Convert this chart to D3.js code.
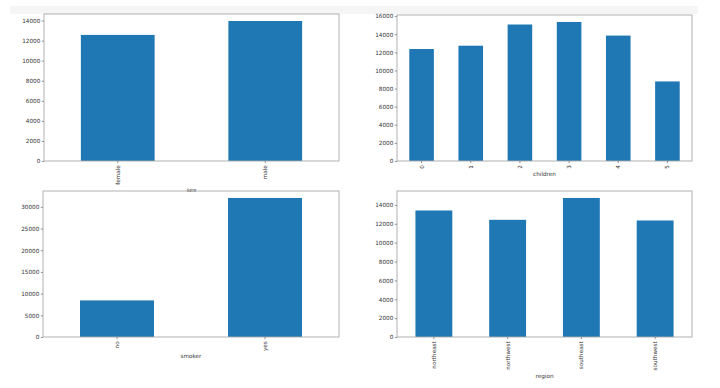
<!DOCTYPE html>
<html>
<head>
<meta charset="utf-8">
<script src="https://cdn.jsdelivr.net/npm/d3@7"></script>
<style>
  body { margin: 0; background: #fff; }
  svg { display: block; font-family: "DejaVu Sans", sans-serif; }
</style>
</head>
<body>
<svg id="chart"></svg>
<script>
// mean charges per group
const sexCats = ["female", "male"];
const sexVals = [12569.58, 13956.75];

const childCats = ["0", "1", "2", "3", "4", "5"];
const childVals = [12365.98, 12731.17, 15073.56, 15355.32, 13850.66, 8786.04];

const smokerCats = ["no", "yes"];
const smokerVals = [8434.27, 32050.23];

const regionCats = ["northeast", "northwest", "southeast", "southwest"];
const regionVals = [13406.38, 12417.58, 14735.41, 12346.94];

const width = 720, height = 388;
const svg = d3.select("#chart").attr("width", width).attr("height", height);

// faint strip of the notebook cell at the top
svg.append("rect")
    .attr("x", 10).attr("y", 6).attr("width", 688).attr("height", 8)
    .attr("fill", "#f5f5f5");

const panels = [
    {cats: sexCats, vals: sexVals, xlabel: "sex", box: [44, 14, 339, 161], step: 2000},
    {cats: childCats, vals: childVals, xlabel: "children", box: [397, 15, 692, 161], step: 2000},
    {cats: smokerCats, vals: smokerVals, xlabel: "smoker", box: [43, 191, 339, 337], step: 5000},
    {cats: regionCats, vals: regionVals, xlabel: "region", box: [397, 191, 692, 337], step: 2000}
];

const fontSize = 5.7;

panels.forEach(p => {
    const [x0, y0, x1, y1] = p.box;
    const g = svg.append("g");

    const x = d3.scaleBand().domain(p.cats).range([x0, x1]).paddingInner(0.5).paddingOuter(0.25);
    const y = d3.scaleLinear().domain([0, d3.max(p.vals) * 1.05]).range([y1, y0]);

    g.selectAll("rect.bar")
        .data(p.cats)
        .enter().append("rect")
        .attr("class", "bar")
        .attr("x", d => x(d))
        .attr("width", x.bandwidth())
        .attr("y", (d, i) => y(p.vals[i]))
        .attr("height", (d, i) => y(0) - y(p.vals[i]))
        .attr("fill", "#1f77b4");

    // frame
    g.append("rect")
        .attr("x", x0).attr("y", y0)
        .attr("width", x1 - x0).attr("height", y1 - y0)
        .attr("fill", "none")
        .attr("stroke", "#a8a8a8")
        .attr("stroke-width", 0.9);

    const ticks = d3.range(0, y.domain()[1], p.step);
    const yAxis = g.append("g")
        .attr("transform", `translate(${x0},0)`)
        .call(d3.axisLeft(y).tickValues(ticks).tickFormat(d3.format("d")).tickSize(2.2).tickPadding(1.5));
    yAxis.select(".domain").remove();
    yAxis.selectAll("line").attr("stroke", "#555").attr("stroke-width", 0.6);
    yAxis.selectAll("text").attr("font-size", fontSize).attr("fill", "#333")
        .attr("font-family", "DejaVu Sans, sans-serif");

    const xAxis = g.append("g")
        .attr("transform", `translate(0,${y1})`)
        .call(d3.axisBottom(x).tickSize(2.2).tickPadding(1.5));
    xAxis.select(".domain").remove();
    xAxis.selectAll("line").attr("stroke", "#555").attr("stroke-width", 0.6);
    xAxis.selectAll("text")
        .attr("font-size", fontSize).attr("fill", "#333")
        .attr("font-family", "DejaVu Sans, sans-serif")
        .attr("text-anchor", "end")
        .attr("dy", "0.35em")
        .attr("transform", "rotate(-90)")
        .attr("x", -4.2)
        .attr("y", 0);

    let maxLen = 0;
    xAxis.selectAll("text").each(function() {
        maxLen = Math.max(maxLen, this.getComputedTextLength());
    });

    g.append("text")
        .attr("x", (x0 + x1) / 2)
        .attr("y", y1 + 4.2 + maxLen + 2 + fontSize * 0.9)
        .attr("text-anchor", "middle")
        .attr("font-size", fontSize)
        .attr("fill", "#333")
        .text(p.xlabel);
});
</script>
</body>
</html>
